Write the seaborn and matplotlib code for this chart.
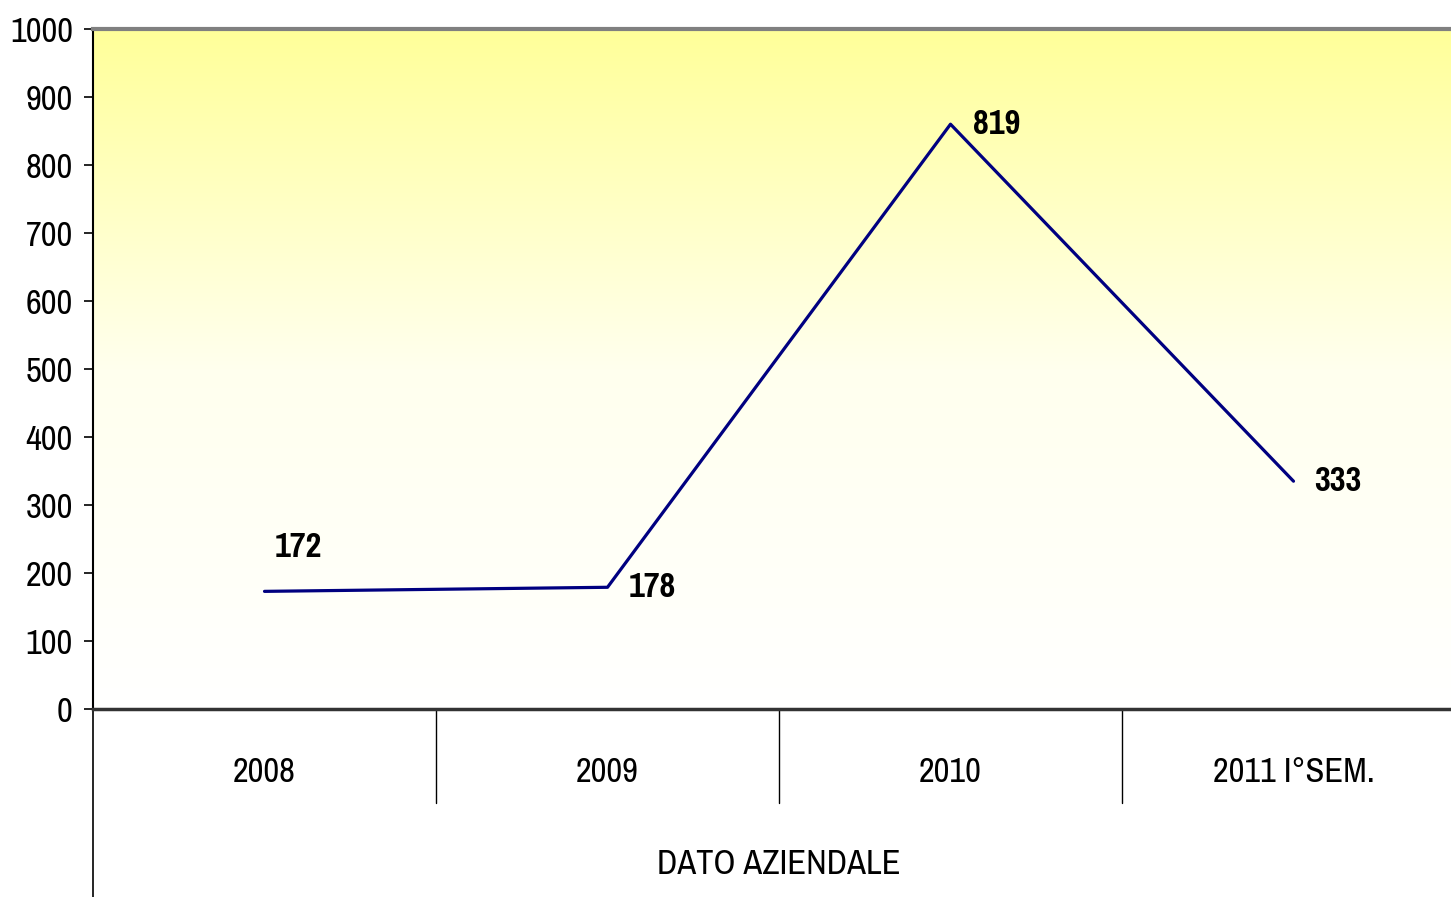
import matplotlib
matplotlib.use("Agg")
import matplotlib.pyplot as plt
import matplotlib.transforms as mtransforms
from matplotlib.colors import LinearSegmentedColormap
import numpy as np
import pandas as pd
import seaborn as sns

# ---- data ----
categories = ["2008", "2009", "2010", "2011 I°SEM."]
values = [173, 179, 860, 335]          # line positions as drawn
value_labels = ["172", "178", "819", "333"]  # printed data labels
group_label = "DATO AZIENDALE"
y_ticks = [0, 100, 200, 300, 400, 500, 600, 700, 800, 900, 1000]

sns.set_style("white")
plt.rcParams['font.family'] = ['Pragati Narrow', 'Archivo Narrow', 'PT Sans Narrow', 'DejaVu Sans']
plt.rcParams['text.color'] = 'black'
plt.rcParams['xtick.color'] = 'black'
plt.rcParams['ytick.color'] = 'black'

W, H = 1451, 897
fig = plt.figure(figsize=(W / 100, H / 100), dpi=100)
left = 93 / W
right = 1465 / W
bottom = (H - 709) / H
top = (H - 29) / H
ax = fig.add_axes([left, bottom, right - left, top - bottom])

# gradient background
cmap = LinearSegmentedColormap.from_list("yg", ["#FFFFFF", "#FFFFEE", "#FFFF99"])
grad = np.linspace(0, 1, 256).reshape(-1, 1)
ax.imshow(grad, extent=[0, 1, 0, 1], transform=ax.transAxes, origin="lower",
          aspect="auto", cmap=cmap, zorder=0)

df = pd.DataFrame({"x": np.arange(len(categories)), "y": values})
sns.lineplot(data=df, x="x", y="y", ax=ax, color="#000080", linewidth=2.3, zorder=3)

FS = 27
ax.set_xlim(-0.5, len(categories) - 0.5)
ax.set_ylim(0, 1000)
ax.set_yticks(y_ticks)
ax.set_yticklabels([str(t) for t in y_ticks], fontsize=FS)
ax.tick_params(axis="y", direction="out", length=6.5, width=1.2, pad=8, left=True)

ax.set_xticks(range(len(categories)))
ax.set_xticklabels(categories, fontsize=FS)
ax.tick_params(axis="x", length=0, pad=34)
ax.set_xlabel("")
ax.set_ylabel("")

ax.spines["right"].set_visible(False)
ax.spines["top"].set_color("#808080")
ax.spines["top"].set_linewidth(3)
ax.spines["left"].set_color("black")
ax.spines["left"].set_linewidth(1.5)
ax.spines["bottom"].set_color("#333333")
ax.spines["bottom"].set_linewidth(2.5)

# category dividers and extended left line
trans = mtransforms.blended_transform_factory(ax.transData, ax.transAxes)
div_bottom = -(803 - 709) / 680
for xd in np.arange(0.5, len(categories) - 0.5, 1.0):
    ax.plot([xd, xd], [0, div_bottom], transform=trans, color="black",
            linewidth=1.0, clip_on=False)
ax.plot([0, 0], [0, -(897 - 709) / 680], transform=ax.transAxes, color="black",
        linewidth=1.2, clip_on=False)

ax.text(0.5, -(864 - 709) / 680, group_label, transform=ax.transAxes,
        ha="center", va="center", fontsize=FS)

# data labels
offsets = [(24, 32), (32, 0), (33, 0), (32, 0)]
for i, (v, lab) in enumerate(zip(values, value_labels)):
    dx, dy = offsets[i]
    ax.annotate(lab, (i, v), xytext=(dx, dy), textcoords="offset points",
                ha="center", va="center", fontsize=FS, fontweight="bold", zorder=4)

fig.savefig("out.png", dpi=100)
